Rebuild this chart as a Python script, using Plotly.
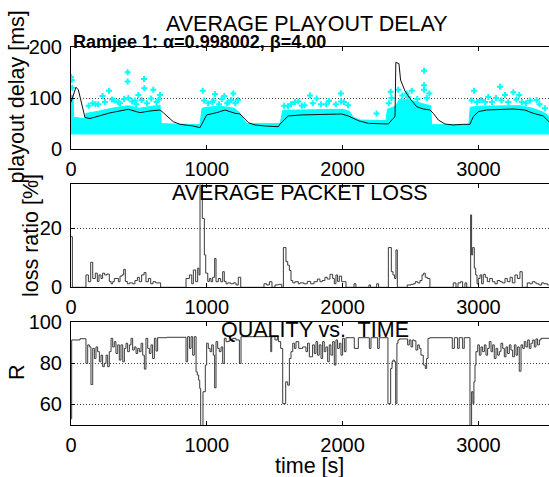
import plotly.graph_objects as go

# ---------------- data ----------------
# top: average playout delay (black line)
delay_t = [0, 37, 54, 78, 103, 140, 214, 287, 422, 508, 582, 655, 680, 753, 803, 901, 950, 974, 999,
           1073, 1134, 1208, 1244, 1306, 1355, 1429, 1527, 1539, 1600, 1699, 1821, 1993, 2042, 2116,
           2189, 2337, 2373, 2386, 2392, 2415, 2427, 2459, 2496, 2546, 2594, 2644, 2668, 2705, 2754,
           2815, 2889, 2938, 2962, 2999, 3061, 3257, 3343, 3404, 3478, 3520]
delay_v = [92, 121, 116, 90, 62, 60, 65, 71, 78, 71.4, 74.7, 76.6, 71.4, 53.8, 48.7, 45.4, 42.1, 54, 67,
           71.4, 76.6, 70.2, 69, 52, 47.4, 45.4, 44.1, 49.3, 65, 67, 68.2, 68.8, 65, 55.8,
           50.6, 49.3, 60.4, 63.5, 169.5, 167, 135, 114, 99, 83, 78.6, 76.6, 70.2, 57.1, 49.3,
           47.4, 48.7, 48.7, 63.5, 73.3, 76.6, 78.6, 76.6, 70.2, 64.9, 53.8]

# dense cloud of per-packet delays (cyan): upper envelope and floor
band_t = [0, 15, 20, 100, 110, 200, 300, 420, 500, 600, 655, 665, 950, 965, 1000, 1100, 1200, 1240,
          1270, 1294, 1540, 1560, 1700, 2000, 2050, 2080, 2130, 2320, 2330, 2390, 2420, 2500, 2600,
          2650, 2655, 2930, 2940, 3000, 3300, 3400, 3480, 3520]
band_top = [105, 105, 62, 60, 70, 74, 80, 85, 80, 84, 86, 50, 48, 80, 82, 84, 80, 72,
            58, 50, 50, 76, 77, 78, 74, 62, 57, 56, 78, 84, 98, 96, 88,
            85, 48, 48, 82, 84, 85, 80, 72, 64]
band_floor = 29

# isolated per-packet delays above the cloud
pkt_t = [0, 5, 10, 417, 417, 538, 540, 606, 280, 233, 302, 422, 496, 655, 970, 1060, 1129, 1195,
         1760, 1809, 1988, 1988, 1674, 1598, 2354, 2410, 2472, 1230, 2600, 2600, 2600, 2639, 2509,
         2968, 3159, 3196, 3257, 3301, 3073, 3130, 3429, 180, 350, 470, 1040, 1150, 1700, 1880,
         2250, 3050, 3350,
         130, 160, 200, 250, 320, 360, 390, 450, 480, 520, 560, 590, 630, 645,
         980, 1010, 1050, 1090, 1110, 1160, 1180, 1210,
         1570, 1620, 1650, 1720, 1780, 1840, 1900, 1950, 2010, 2040,
         2340, 2360, 2440, 2480, 2550, 2620,
         2950, 2990, 3020, 3100, 3170, 3220, 3280, 3320, 3380, 3450, 3490]
pkt_v = [141, 135, 120, 150, 132, 137, 119, 116, 114, 104, 97, 100, 106, 106, 114, 108, 104, 109,
         105, 99, 109, 93, 93, 84, 112, 116, 109, 96, 153, 125, 116, 109, 114,
         114, 122, 106, 111, 106, 102, 100, 96, 88, 92, 95, 92, 90, 85, 88,
         70, 92, 90,
         85, 90, 88, 92, 95, 90, 98, 93, 88, 96, 90, 99, 92, 97,
         95, 90, 95, 88, 98, 92, 96, 90,
         85, 88, 92, 86, 90, 88, 94, 88, 92, 86,
         90, 100, 105, 102, 98, 100,
         95, 92, 96, 92, 95, 92, 97, 92, 95, 88, 80]

# middle: average packet loss [%] (stairs)
loss_t = [0, 10, 110, 128, 145, 160, 179, 194, 206, 221, 233, 248, 265, 282, 295, 307, 319, 349, 361,
          376, 388, 400, 415, 430, 454, 471, 489, 503, 520, 538, 552, 570, 587, 604, 624, 660, 847,
          872, 889, 901, 918, 933, 943, 950, 967, 982, 992, 1007, 1019, 1031, 1043, 1058, 1068, 1085,
          1102, 1117, 1129, 1142, 1154, 1176, 1196, 1215, 1232, 1250, 1421, 1441, 1461, 1480, 1502,
          1527, 1552, 1564, 1583, 1596, 1608, 1620, 1633, 1650, 1674, 1686, 1715, 1740, 1765, 1789,
          1814, 1833, 1850, 1870, 1887, 1907, 1927, 1939, 1951, 1963, 1976, 1993, 2025, 2084, 2098,
          2194, 2206, 2251, 2265, 2337, 2359, 2371, 2383, 2393, 2403, 2476, 2504, 2521, 2535, 2553,
          2570, 2585, 2597, 2609, 2624, 2643, 2815, 2835, 2850, 2869, 2884, 2901, 2914, 2943, 2950,
          2958, 2970, 2980, 2990, 2999, 3012, 3024, 3036, 3051, 3066, 3083, 3103, 3122, 3139, 3159,
          3176, 3196, 3213, 3233, 3250, 3269, 3287, 3306, 3323, 3360, 3380, 3397, 3417, 3429, 3446,
          3466, 3483, 3508, 3520]
loss_v = [17.2, 0, 4.2, 1.9, 8.5, 3, 4.8, 2, 4.2, 3, 4.8, 4.2, 4.5, 2, 1.2, 1.9, 3, 1.9, 3.8,
          4.2, 6.1, 2, 1.2, 1.5, 1.2, 2.3, 3.4, 1.9, 4.2, 5, 1.9, 3, 1.2, 1.9, 1.5, 0, 3,
          4.2, 1.2, 5.9, 1.9, 6.5, 4.2, 38, 23.4, 11, 4.8, 2, 3, 1.9, 3.4, 9.8, 1.9, 3,
          1.9, 5.3, 2, 1.2, 1.5, 1.2, 1.5, 0.8, 3.4, 0, 1.2, 0.8, 1.9, 0, 0.8,
          1, 0, 13.5, 8.7, 7.5, 5.7, 2.3, 1.5, 1.9, 1.2, 1.5, 1.2, 2, 1.2, 1.9,
          2.8, 1.9, 2.3, 3.4, 2.8, 4.4, 3, 1.2, 4.2, 2, 3.8, 1.9, 0, 1.2, 0,
          0.8, 0, 1.2, 0, 13.5, 5.3, 4.2, 3, 12.7, 0, 0.8, 1, 1.2, 1.9, 1.5,
          2.3, 4.2, 4.8, 3.4, 3, 0, 1.5, 0, 1.5, 1.9, 0, 1.5, 0, 24.6, 11,
          13.5, 6.5, 4.2, 1.2, 3, 4.2, 1.2, 4.4, 3.4, 1.9, 3, 1.9, 1.2, 2.3, 1.9,
          1.5, 3, 1.9, 3.4, 1.5, 4.2, 3, 5.3, 0, 1.5, 1.2, 1.9, 1.5, 1.2, 0.8,
          1.5, 1.2, 0.8, 0.8]

# bottom: quality R vs time (stairs)
r_t = [0, 5, 66, 110, 123, 135, 147, 160, 172, 184, 196, 209, 221, 233, 245, 258, 270, 282, 295,
       307, 319, 331, 344, 356, 368, 381, 393, 405, 417, 430, 442, 454, 466, 479, 491, 503, 516,
       528, 540, 552, 565, 577, 589, 601, 614, 626, 638, 705, 847, 859, 872, 884, 896, 908, 921,
       930, 940, 948, 955, 972, 989, 999, 1011, 1024, 1036, 1048, 1058, 1068, 1080, 1092, 1105,
       1117, 1129, 1142, 1166, 1191, 1215, 1240, 1252, 1471, 1478, 1502, 1520, 1527, 1544, 1559,
       1581, 1596, 1608, 1620, 1633, 1645, 1657, 1677, 1706, 1730, 1742, 1755, 1779, 1792, 1804,
       1816, 1828, 1841, 1853, 1865, 1877, 1890, 1902, 1914, 1927, 1939, 1951, 1963, 1976, 1988,
       2000, 2013, 2025, 2086, 2116, 2197, 2209, 2258, 2270, 2334, 2354, 2364, 2371, 2381, 2391,
       2400, 2408, 2418, 2479, 2491, 2504, 2516, 2528, 2540, 2553, 2565, 2577, 2594, 2609, 2619,
       2629, 2643, 2808, 2823, 2847, 2859, 2884, 2896, 2938, 2950, 2960, 2967, 2975, 2982, 2995,
       3007, 3019, 3031, 3044, 3056, 3068, 3080, 3093, 3105, 3117, 3130, 3142, 3154, 3166, 3179,
       3191, 3203, 3215, 3228, 3240, 3252, 3265, 3277, 3289, 3301, 3314, 3326, 3338, 3350, 3363,
       3375, 3387, 3400, 3412, 3424, 3436, 3449, 3461, 3520]
r_v = [53, 91.4, 92, 80, 89, 88, 69.7, 87.3, 82.4, 88, 85.7, 80.8, 84, 78.4, 80, 84, 78.4, 85.7, 92.2,
       88, 90.6, 84.8, 89, 81.6, 89, 80.8, 87.3, 89.8, 85.7, 89, 92.2, 86.5, 88, 84.8, 87.3, 85.7, 89.8,
       84, 77.2, 92.2, 87.3, 84.8, 89, 82.4, 92.2, 86, 92.5, 92.7, 80.8, 93, 87.3, 93, 84, 93, 75.9,
       74.3, 71.8, 67.8, 45, 66.2, 79.2, 89.8, 87.3, 85.7, 89, 84, 68.1, 90.6, 87.3, 85.7, 88,
       80, 92.2, 90.6, 91.4, 92.2, 91.4, 80, 93, 85.7, 93, 91.4, 93, 90.6, 87.3, 60.4,
       71, 69.4, 82.4, 85.7, 89.8, 87.3, 90.6, 87.3, 88, 85.7, 89.8, 83.2, 89, 84.8, 90.6,
       84, 89, 82.4, 90.6, 85.7, 88, 80.8, 89, 84, 90.6, 79.2, 91.4, 87.3, 89.8, 84,
       92.2, 85.7, 92.5, 87.3, 92.5, 87.3, 92.5, 87.3, 92.5, 60.4, 77.5, 80.8, 81.6, 80.8, 60.4,
       89.8, 91.4, 91.9, 89, 91.4, 88, 91.4, 91, 86.5, 89, 87.3, 84, 79.2, 77.5, 82.4,
       92.2, 92.5, 87.3, 92.5, 87.3, 92.5, 87.3, 92.5, 45, 66.2, 60.4, 71, 79.2, 85.7, 89,
       84, 88, 85.7, 89, 84, 87.3, 90.6, 85.7, 89, 82.4, 87.3, 84, 85.7, 89.8, 87.3,
       83.2, 88, 84.8, 89, 86.5, 83.2, 89, 84, 88, 76.2, 89, 87.3, 90.6, 88, 91.4,
       87.3, 89.8, 91.4, 88, 91.9, 89, 91.4, 92.2, 92.2]

x_ticks = [0, 1000, 2000, 3000]
delay_ticks = [0, 100, 200]
loss_ticks = [0, 20]
r_ticks = [60, 80, 100]

# ---------------- figure ----------------
W, H = 549, 477
FONT = "Liberation Sans, Arial, Helvetica, sans-serif"
CYAN = "#00ffff"


def py(pix):
    return (H - pix) / H


def px(pix):
    return pix / W


fig = go.Figure()

fig.add_trace(go.Scatter(x=band_t, y=[band_floor] * len(band_t), mode="lines",
                         line=dict(width=0, color=CYAN), xaxis="x", yaxis="y",
                         hoverinfo="skip", showlegend=False))
fig.add_trace(go.Scatter(x=band_t, y=band_top, mode="lines", fill="tonexty",
                         fillcolor=CYAN, line=dict(width=1, color=CYAN), xaxis="x", yaxis="y",
                         showlegend=False))
fig.add_trace(go.Scatter(x=pkt_t, y=pkt_v, mode="markers",
                         marker=dict(symbol="cross", size=5, color=CYAN, line=dict(width=0)),
                         xaxis="x", yaxis="y", showlegend=False))
fig.add_trace(go.Scatter(x=delay_t, y=delay_v, mode="lines",
                         line=dict(color="#111111", width=1), xaxis="x", yaxis="y",
                         showlegend=False))

fig.add_trace(go.Scatter(x=loss_t, y=loss_v, mode="lines", line_shape="hv",
                         line=dict(color="#3a3a3a", width=1), xaxis="x2", yaxis="y2",
                         showlegend=False))

fig.add_trace(go.Scatter(x=r_t, y=r_v, mode="lines", line_shape="hv",
                         line=dict(color="#3a3a3a", width=1), xaxis="x3", yaxis="y3",
                         showlegend=False))

tickfont = dict(family=FONT, size=20, color="black")
xdom = [px(71), 1.0]
GRIDDASH = "1px,2px"


def xax(anchor):
    return dict(domain=xdom, anchor=anchor, range=[0, 3520], tickvals=x_ticks,
                ticks="inside", ticklen=4, tickcolor="black", showline=True,
                linecolor="black", linewidth=1, mirror="ticks", showgrid=False,
                zeroline=False, tickfont=tickfont, ticklabelstandoff=2, automargin=False)


def yax(anchor, dom, rng, tv):
    return dict(domain=dom, anchor=anchor, range=rng, tickvals=tv, ticks="inside",
                ticklen=4, tickcolor="black", showline=True, linecolor="black",
                linewidth=1, mirror=False, showgrid=True, gridcolor="#444444",
                griddash=GRIDDASH, gridwidth=1, zeroline=False, tickfont=tickfont,
                ticklabelstandoff=4, automargin=False)


fig.update_layout(
    width=W, height=H,
    margin=dict(l=0, r=0, t=0, b=0, autoexpand=False),
    paper_bgcolor="white", plot_bgcolor="white",
    font=dict(family=FONT, color="black"),
    xaxis=xax("y"),
    yaxis=yax("x", [py(149.3), py(46.7)], [0, 200], delay_ticks),
    xaxis2=xax("y2"),
    yaxis2=yax("x2", [py(287.3), py(184.3)], [0, 35], loss_ticks),
    xaxis3=xax("y3"),
    yaxis3=yax("x3", [py(425.0), py(322.3)], [50, 100], r_ticks),
    showlegend=False,
)

TS = 21.5
ann = [
    dict(text="AVERAGE PLAYOUT DELAY", x=px(307), y=py(23.6), size=TS),
    dict(text="AVERAGE PACKET LOSS", x=px(300), y=py(193), size=TS),
    dict(text="QUALITY vs.&nbsp; TIME", x=px(315), y=py(329.7), size=TS),
    dict(text="time [s]", x=px(309), y=py(466), size=TS),
]
for a in ann:
    fig.add_annotation(text=a["text"], x=a["x"], y=a["y"], xref="paper", yref="paper",
                       xanchor="center", yanchor="middle", showarrow=False,
                       font=dict(family=FONT, size=a["size"], color="black"))

fig.add_annotation(text="<b>Ramjee 1: α=0.998002, β=4.00</b>", x=px(71), y=py(41.5),
                   xref="paper", yref="paper", xanchor="left", yanchor="middle",
                   showarrow=False, font=dict(family=FONT, size=18, color="black"))

for txt, xc, yc in [("playout delay [ms]", 17, 97.5), ("loss ratio [%]", 31, 236),
                    ("R", 17, 372)]:
    fig.add_annotation(text=txt, x=px(xc), y=py(yc), xref="paper", yref="paper",
                       xanchor="center", yanchor="middle", textangle=-90, showarrow=False,
                       font=dict(family=FONT, size=TS, color="black"))

fig.write_html("out.html", config={"responsive": False, "displayModeBar": False},
               post_script="document.body.style.margin='0px';"
                           "document.body.style.overflow='hidden';")
